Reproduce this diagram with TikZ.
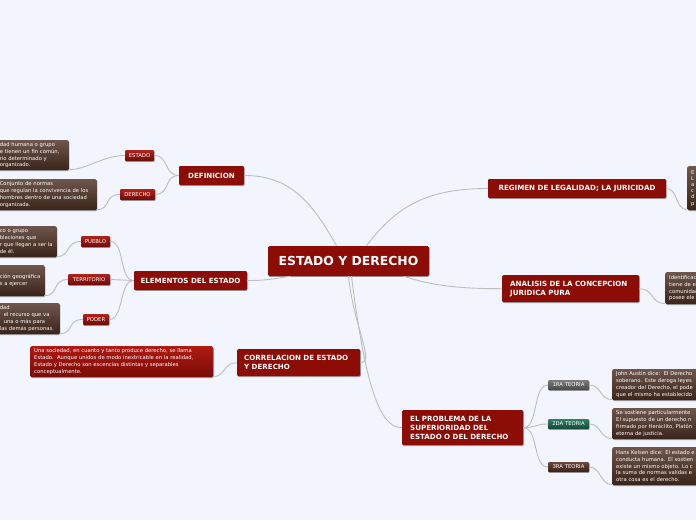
\documentclass[tikz,border=0pt]{standalone}
\usepackage{fontspec}
\setmainfont{DejaVu Sans}
\usetikzlibrary{shadows}
\definecolor{bg}{HTML}{F2F5FE}
\definecolor{mainred}{HTML}{8C0D05}
\definecolor{conn}{HTML}{BDBDBD}
\definecolor{leaftop}{HTML}{6E564C}
\definecolor{leafbot}{HTML}{3A2319}
\definecolor{tagtop}{HTML}{B0231C}
\definecolor{tagbot}{HTML}{6E0A06}
\definecolor{graytop}{HTML}{7C7C7C}
\definecolor{graybot}{HTML}{474747}
\definecolor{tealtop}{HTML}{2F7E68}
\definecolor{tealbot}{HTML}{164838}
\definecolor{browntop}{HTML}{6C4838}
\definecolor{brownbot}{HTML}{3A2116}
\definecolor{redtop}{HTML}{B01A12}
\definecolor{redbot}{HTML}{780B06}
\tikzset{
  shade/.style={drop shadow={shadow xshift=0.6pt,shadow yshift=-0.9pt,opacity=0.35,fill=black}},
  mainbox/.style={fill=mainred,text=white,font=\bfseries\fontsize{12.4}{14}\selectfont,
    rounded corners=1.5pt,inner sep=0pt,minimum width=161pt,minimum height=30pt,shade},
  topic/.style={fill=mainred,text=white,font=\bfseries\fontsize{7.1}{9.2}\selectfont,
    rounded corners=1.2pt,inner sep=0pt,minimum height=19pt,shade},
  topic2/.style={topic,align=left,inner xsep=8pt,anchor=north west},
  tag/.style={top color=tagtop,bottom color=tagbot,text=white,font=\fontsize{5.3}{6}\selectfont,
    rounded corners=1pt,inner sep=0pt,minimum height=11pt,shade},
  leaf/.style={top color=leaftop,bottom color=leafbot,text=white,font=\fontsize{5.25}{6.8}\selectfont,
    align=left,rounded corners=1.5pt,inner xsep=4pt,inner ysep=0pt,shade},
  link/.style={draw=conn,line width=0.9pt}
}
\begin{document}
\begin{tikzpicture}[x=1pt,y=-1pt]
\fill[bg] (0,0) rectangle (696,520);
\useasboundingbox (0,0) rectangle (696,520);

% central and topics
\node[mainbox] (c) at (348.5,261) {ESTADO Y DERECHO};
\node[topic,minimum width=65pt] (def) at (211.5,175.5) {DEFINICION};
\node[topic,minimum width=178pt] (reg) at (577,188.5) {REGIMEN DE LEGALIDAD; LA JURICIDAD};
\node[topic,minimum width=113pt] (elem) at (190.5,280.5) {ELEMENTOS DEL ESTADO};
\node[topic2,text width=121pt,minimum height=27pt] (anal) at (502,275) {ANALISIS DE LA CONCEPCION\\JURIDICA PURA};
\node[topic2,text width=109pt,inner xsep=7pt,minimum height=27pt] (corr) at (237,349) {CORRELACION DE ESTADO\\Y DERECHO};
\node[topic2,text width=105pt,minimum height=35pt] (prob) at (402,410) {EL PROBLEMA DE LA\\SUPERIORIDAD DEL\\ESTADO O DEL DERECHO};

% tags
\node[tag,minimum width=29pt] (tEst) at (139.5,155.5) {ESTADO};
\node[tag,minimum width=35pt] (tDer) at (137.5,194.5) {DERECHO};
\node[tag,minimum width=29pt] (tPue) at (95.5,241.5) {PUEBLO};
\node[tag,minimum width=42pt] (tTer) at (89,279.5) {TERRITORIO};
\node[tag,minimum width=26pt] (tPod) at (96,319.5) {PODER};
\node[tag,minimum width=41pt,minimum height=10pt,top color=graytop,bottom color=graybot] (t1) at (568.5,385) {1RA TEORIA};
\node[tag,minimum width=41pt,minimum height=10pt,top color=tealtop,bottom color=tealbot] (t2) at (568.5,424) {2DA TEORIA};
\node[tag,minimum width=41pt,minimum height=10pt,top color=browntop,bottom color=brownbot] (t3) at (568.5,467) {3RA TEORIA};

% leaves left
\node[leaf,anchor=north east,text width=65pt,minimum height=30pt] (lA) at (69,140)
  {dad humana o grupo\\e tienen un fin común,\\rio determinado y\\organizado.};
\node[leaf,anchor=north east,text width=93pt,minimum height=31pt] (lB) at (97,179)
  {Conjunto de normas\\que regulan la convivencia de los\\hombres dentro de una sociedad\\organizada.};
\node[leaf,anchor=north east,text width=53pt,minimum height=31pt] (lC) at (57,226)
  {co o grupo\\blaciones que\\\mbox{r que llegan a ser la}\\de él.};
\node[leaf,anchor=north east,text width=41pt,minimum height=31pt] (lD) at (45,265)
  {\mbox{ción geográfica}\\s a ejercer};
\node[leaf,anchor=north east,text width=56pt,minimum height=31pt] (lE) at (60,303)
  {dad\\\hspace*{4pt}el recurso que va\\\hspace*{4pt}una o más para\\\mbox{las demás personas.}};
\node[leaf,anchor=north west,text width=175pt,minimum height=31pt,top color=redtop,bottom color=redbot] (lF) at (30,346)
  {Una sociedad, en cuanto y tanto produce derecho, se llama\\Estado.\ \ Aunque unidos de modo inextricable en la realidad,\\Estado y Derecho son escencias distintas y separables\\conceptualmente.};

% leaves right
\node[leaf,anchor=north west,text width=60pt,minimum height=44pt,font=\fontsize{5.25}{6.2}\selectfont] (lR1) at (687,166)
  {E\\L\\a\\c\\d\\p};
\node[leaf,anchor=north west,text width=60pt,minimum height=32pt] (lR2) at (665,272)
  {Identificac\\tiene de e\\comunidad\\posee ele};
\node[leaf,anchor=north west,text width=110pt,minimum height=31pt] (lT1) at (612,369)
  {John Austin dice:\ \ El Derecho\\soberano. Este deroga leyes\\creador del Derecho, el pode\\que el mismo ha establecido};
\node[leaf,anchor=north west,text width=110pt,minimum height=31pt] (lT2) at (612,408)
  {Se sostiene particularmente\\El supuesto de un derecho n\\firmado por Heráclito, Platón\\eterna de justicia.};
\node[leaf,anchor=north west,text width=110pt,minimum height=38pt] (lT3) at (612,447)
  {Hans Kelsen dice: El estado e\\conducta humana. El sostien\\existe un mismo objeto. Lo c\\la suma de normas validas e\\otra cosa es el derecho.};

% connectors from the centre
\draw[link] ([xshift=-12pt]c.north) .. controls +(-25,-45) and +(45,0) .. (def.east);
\draw[link] ([xshift=18pt]c.north) .. controls +(30,-40) and +(-60,0) .. (reg.west);
\draw[link] ([xshift=-58pt]c.south) .. controls +(-20,3) and +(20,0) .. (elem.east);
\draw[link] ([xshift=55pt]c.south) .. controls +(30,10) and +(-40,0) .. (anal.west);
\draw[link] ([xshift=0pt]c.south) .. controls +(5,50) and +(15,0) .. (corr.east);
\draw[link] ([xshift=3pt]c.south) .. controls +(15,120) and +(-20,0) .. (prob.west);

% topic to tags
\draw[link] (def.west) .. controls +(-15,0) and +(15,0) .. (tEst.east);
\draw[link] (def.west) .. controls +(-15,0) and +(15,0) .. (tDer.east);
\draw[link] (elem.west) .. controls +(-15,0) and +(15,0) .. (tPue.east);
\draw[link] (elem.west) .. controls +(-12,0) and +(12,0) .. (tTer.east);
\draw[link] (elem.west) .. controls +(-15,0) and +(15,0) .. (tPod.east);
\draw[link] (prob.east) .. controls +(15,0) and +(-15,0) .. (t1.west);
\draw[link] (prob.east) .. controls +(12,0) and +(-12,0) .. (t2.west);
\draw[link] (prob.east) .. controls +(15,0) and +(-15,0) .. (t3.west);

% tags to leaves
\draw[link] (tEst.west) .. controls +(-22,0) and +(18,0) .. ([yshift=0.8pt]lA.south east);
\draw[link] (tDer.west) .. controls +(-16,0) and +(14,0) .. ([yshift=0.8pt]lB.south east);
\draw[link] (tPue.west) .. controls +(-16,0) and +(14,0) .. ([yshift=0.8pt]lC.south east);
\draw[link] (tTer.west) .. controls +(-16,0) and +(14,0) .. ([yshift=0.8pt]lD.south east);
\draw[link] (tPod.west) .. controls +(-16,0) and +(14,0) .. ([yshift=0.8pt]lE.south east);
\draw[link] (corr.west) .. controls +(-14,0) and +(12,0) .. ([yshift=0.8pt]lF.south east);
\draw[link] (t1.east) .. controls +(12,0) and +(-12,0) .. ([yshift=0.8pt]lT1.south west);
\draw[link] (t2.east) .. controls +(12,0) and +(-12,0) .. ([yshift=0.8pt]lT2.south west);
\draw[link] (t3.east) .. controls +(12,0) and +(-12,0) .. ([yshift=0.8pt]lT3.south west);
\draw[link] (reg.east) .. controls +(12,0) and +(-12,0) .. ([yshift=0.8pt]lR1.south west);
\draw[link] (anal.east) .. controls +(14,0) and +(-14,0) .. ([yshift=0.8pt]lR2.south west);
\end{tikzpicture}
\end{document}
